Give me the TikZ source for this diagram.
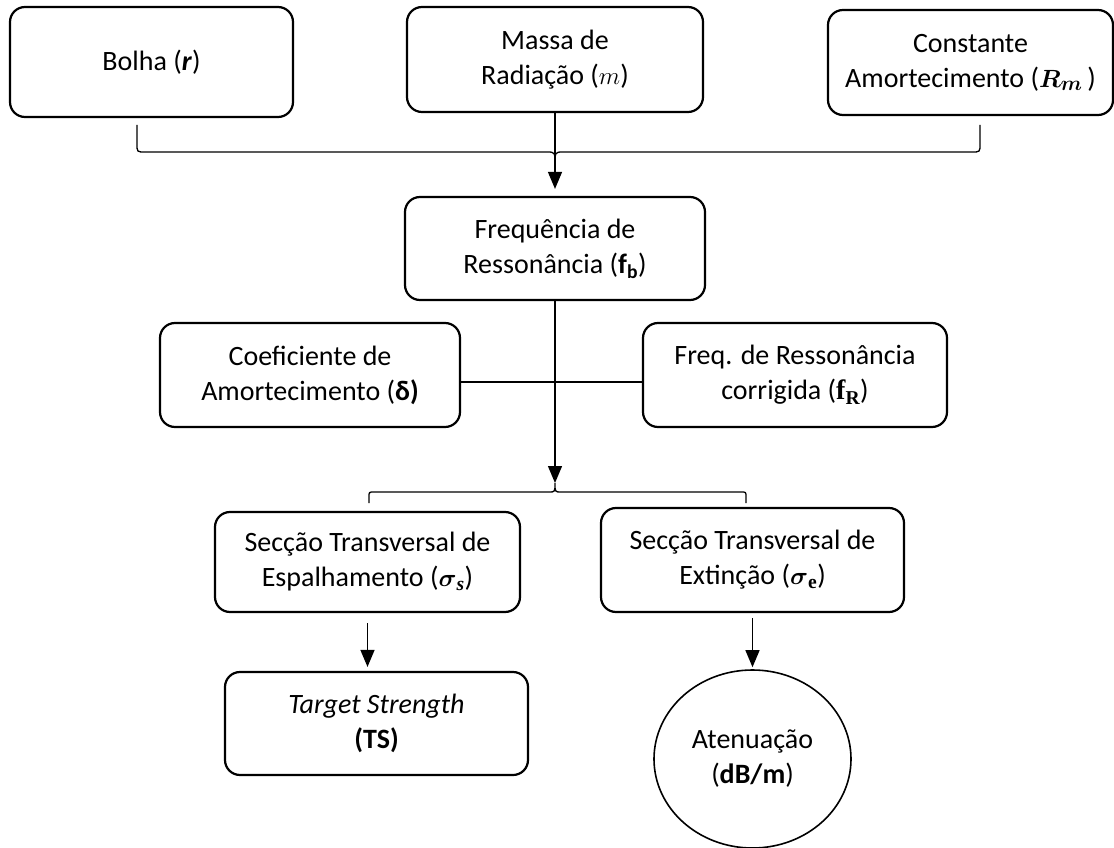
\documentclass[tikz,border=0pt]{standalone}
\usepackage{amsmath}
\usepackage[no-math]{fontspec}
\setmainfont{Carlito}
\newfontfamily\serifsym{Liberation Serif}
\usepackage{tikz}
\usetikzlibrary{arrows.meta,shapes.geometric}

\tikzset{
  box/.style={draw, line width=2.2pt, rounded corners=15pt, align=center, inner sep=0pt, font={\fontsize{28}{35}\selectfont}},
  link/.style={line width=1.3pt},
  arrow/.style={link, -{Triangle[length=17pt,width=14pt]}}
}

\begin{document}
\begin{tikzpicture}[x=1pt, y=-1pt] % y grows downwards, like the page
        \useasboundingbox (0,0) rectangle (1114,848);

        % Input quantities, top row
        \node[box, minimum width=283pt, minimum height=110pt] (bolha) at (151.5,62) {Bolha (\textbf{\textit{r}})};                 % Bubble radius
        \node[box, minimum width=296pt, minimum height=105pt] (massa) at (555,59.5) {Massa de\\Radiação ($m$)};                       % Radiation mass
        \node[box, minimum width=285pt, minimum height=105pt] (const) at (970.5,62.5) {Constante\\Amortecimento ($\boldsymbol{R_m}$\,)}; % Damping constant

        % Resonance and the two quantities derived from it
        \node[box, minimum width=300pt, minimum height=103pt] (freq) at (555,248.5) {Frequência de\\Ressonância (\textbf{f\textsubscript{b}})};
        \node[box, minimum width=300pt, minimum height=104pt] (coef) at (310,375) {Coeficiente de\\Amortecimento (\textbf{δ)}};
        \node[box, minimum width=304pt, minimum height=104pt] (corr) at (795,375) {Freq. de Ressonância\\corrigida ({\serifsym\bfseries f\textsubscript{R}})};

        % Cross sections
        \node[box, minimum width=305pt, minimum height=100pt] (esp) at (367.5,562) {Secção Transversal de\\Espalhamento ($\boldsymbol{\sigma}$\textsubscript{\serifsym\bfseries\itshape s})};
        \node[box, minimum width=303pt, minimum height=104pt] (ext) at (752.5,560) {Secção Transversal de\\Extinção ($\boldsymbol{\sigma}$\textsubscript{\serifsym\bfseries e})};

        % Results
        \node[box, minimum width=303pt, minimum height=103pt] (ts) at (376.5,723.5) {\textit{Target Strength}\\\textbf{(TS)}};
        \node[box, ellipse, rounded corners=0pt, line width=1.6pt, minimum width=197pt, minimum height=178pt] (aten) at (752.5,759) {Atenuação\\(\textbf{dB/m})};

        % Braces joining the branches
        \coordinate (topjoin) at (555,165);
        \coordinate (botjoin) at (555,483);
        \draw[link] (137,125) -- (137,144) .. controls (137,152) .. (145,152) -- (547,152) .. controls (555,152) .. (topjoin) .. controls (555,152) .. (563,152) -- (972,152) .. controls (980,152) .. (980,144) -- (980,125);
        \draw[link] (369,503) -- (369,497) .. controls (369,492) .. (374,492) -- (549,492) .. controls (555,492) .. (botjoin) .. controls (555,492) .. (561,492) -- (741,492) .. controls (746,492) .. (746,497) -- (746,503);

        % Connectors
        \draw[arrow, shorten >=7pt] (massa) -- (freq);
        \draw[arrow] (freq) -- (botjoin);
        \draw[link] ([yshift=-7pt]coef.east) -- ([yshift=-7pt]corr.west);
        \draw[arrow, shorten <=10pt, shorten >=4pt] (esp.south) -- (esp.south |- ts.north);
        \draw[arrow, shorten <=5pt, shorten >=2pt] (ext) -- (aten);
    \end{tikzpicture}
\end{document}
